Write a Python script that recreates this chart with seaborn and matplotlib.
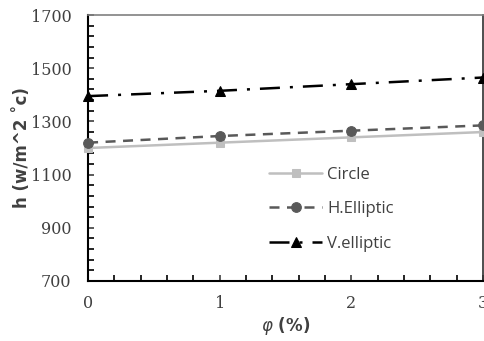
import matplotlib.pyplot as plt
import numpy as np
import pandas as pd
import seaborn as sns
from matplotlib.ticker import FixedLocator, MultipleLocator

# ── Data ──────────────────────────────────────────────────────────────────────
phi = [0, 1, 2, 3]
h_circle = [1200, 1220, 1240, 1260]
h_h_elliptic = [1220, 1245, 1265, 1285]
h_v_elliptic = [1395, 1415, 1440, 1465]

series = ["Circle", "H.Elliptic", "V.elliptic"]
values = [h_circle, h_h_elliptic, h_v_elliptic]

df = pd.DataFrame({
    "phi": phi * len(series),
    "h": [v for vals in values for v in vals],
    "shape": [s for s in series for _ in phi],
})

styles = {
    "Circle":     dict(color="#bfbfbf", marker="s", dashes=None, ms=6),
    "H.Elliptic": dict(color="#595959", marker="o", dashes=(4, 3), ms=7),
    "V.elliptic": dict(color="#000000", marker="^", dashes=(8, 4, 1.2, 4), ms=7),
}

# ── Plot ──────────────────────────────────────────────────────────────────────
sns.set_style("white")
plt.rcParams["font.family"] = ["DejaVu Serif"]

fig, ax = plt.subplots(figsize=(4.84, 3.41), dpi=100)
fig.subplots_adjust(left=0.182, right=0.998, top=0.956, bottom=0.176)

for name in series:
    st = styles[name]
    sub = df[df["shape"] == name]
    sns.lineplot(data=sub, x="phi", y="h", ax=ax, color=st["color"], lw=1.8,
                 marker=st["marker"], markersize=st["ms"], markeredgecolor=st["color"],
                 label=name, clip_on=False, zorder=3)
    line = ax.lines[-1]
    if st["dashes"] is not None:
        line.set_dashes(st["dashes"])

ax.set_xlim(0, 3)
ax.set_ylim(700, 1700)
ax.xaxis.set_major_locator(MultipleLocator(1))
ax.xaxis.set_minor_locator(MultipleLocator(0.2))
ax.yaxis.set_major_locator(FixedLocator(np.arange(700, 1701, 200)))
ax.yaxis.set_minor_locator(FixedLocator(np.arange(700, 1701, 40)))
ax.tick_params(which="both", direction="in", length=4, width=1.2, color="black")
ax.tick_params(which="major", labelsize=11.5, colors="#404040")
ax.tick_params(axis="y", which="major", pad=12)
ax.tick_params(axis="x", which="major", pad=10)
ax.tick_params(axis="both", which="both", left=True, bottom=True)

for side in ["left", "bottom"]:
    ax.spines[side].set_color("black")
    ax.spines[side].set_linewidth(1.5)
ax.spines["top"].set_color("#808080")
ax.spines["top"].set_linewidth(1.2)
ax.spines["right"].set_color("#303030")
ax.spines["right"].set_linewidth(1.2)

ax.set_xlabel("$\\varphi$ (%)", fontsize=12, fontweight="bold", family="DejaVu Sans",
              color="#404040", labelpad=2)
ax.set_ylabel("h (w/m^2 ˚c)", fontsize=12, fontweight="bold", family="DejaVu Sans",
              color="#404040", labelpad=0)

leg = ax.legend(loc="upper left", bbox_to_anchor=(0.42, 0.485), frameon=False,
                labelspacing=1.1, handlelength=3.2, handletextpad=0.3,
                prop={"family": "Open Sans", "size": 12})
for text in leg.get_texts():
    text.set_color("#404040")

fig.savefig("out.png", dpi=100)
